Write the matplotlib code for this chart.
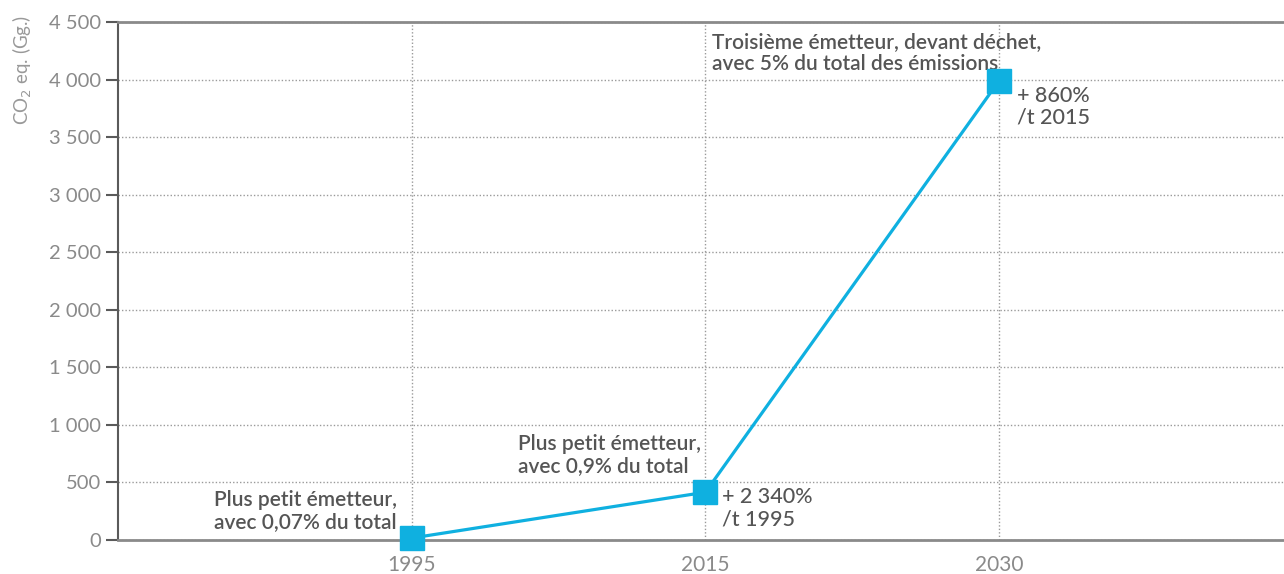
import matplotlib.pyplot as plt

# data
years = ["1995", "2015", "2030"]
emissions = [17, 415, 3990]
y_ticks = [0, 500, 1000, 1500, 2000, 2500, 3000, 3500, 4000, 4500]
y_tick_labels = ["0", "500", "1 000", "1 500", "2 000", "2 500",
                 "3 000", "3 500", "4 000", "4 500"]
notes_left = ["Plus petit émetteur,\navec 0,07% du total",
              "Plus petit émetteur,\navec 0,9% du total",
              "Troisième émetteur, devant déchet,\navec 5% du total des émissions"]
notes_right = [None, "+ 2 340%\n/t 1995", "+ 860%\n/t 2015"]

plt.rcParams['font.family'] = ['Lato', 'DejaVu Sans']

BLUE = '#0fb0e0'
TXT = '#555555'
TICK = '#8a8a8a'

fig = plt.figure(figsize=(12.84, 5.74), dpi=100)
ax = fig.add_axes([118 / 1284, 1 - 540 / 574, 1 - 118 / 1284, (540 - 22) / 574])

x = list(range(len(years)))
ax.plot(x, emissions, color=BLUE, lw=2.3, marker='s', ms=17,
        markerfacecolor=BLUE, markeredgecolor=BLUE, zorder=5, clip_on=False)

ax.set_xlim(-1, 2.97)
ax.set_ylim(0, 4500)
ax.set_xticks(x)
ax.set_xticklabels(years)
ax.set_yticks(y_ticks)
ax.set_yticklabels(y_tick_labels)

ax.grid(True, color='#9a9a9a', ls=(0, (1, 1.5)), lw=1)
ax.set_axisbelow(True)

ax.spines['right'].set_visible(False)
ax.spines['left'].set_color('#5a5a5a')
ax.spines['left'].set_linewidth(1.5)
ax.spines['top'].set_color(TICK)
ax.spines['top'].set_linewidth(2)
ax.spines['bottom'].set_color(TICK)
ax.spines['bottom'].set_linewidth(2)

ax.tick_params(axis='y', direction='out', length=9, width=1.5, color='#5a5a5a',
               pad=3, labelsize=14.5, labelcolor=TICK)
ax.tick_params(axis='x', length=0, pad=11, labelsize=15, labelcolor=TICK)

fig.text(22 / 1284, 1 - 70 / 574, "CO$_2$ eq. (Gg.)", rotation=90,
         ha='center', va='center', fontsize=13.5, color='#999999')

# annotations (offsets in pixels)
left_offsets = [(-15, 27, 'right'), (-187, 37, 'left'), (-287, 28, 'left')]
right_offsets = [None, (17, -16), (18, -26)]
for i in x:
    dx, dy, ha = left_offsets[i]
    ax.annotate(notes_left[i], xy=(i, emissions[i]), xytext=(dx, dy),
                textcoords='offset pixels', ha=ha, va='center',
                multialignment='left', fontsize=15, color=TXT,
                fontweight='semibold', linespacing=1.1, annotation_clip=False)
    if notes_right[i]:
        dx, dy = right_offsets[i]
        ax.annotate(notes_right[i], xy=(i, emissions[i]), xytext=(dx, dy),
                    textcoords='offset pixels', ha='left', va='center',
                    multialignment='left', fontsize=15.5, color=TXT,
                    fontweight='medium', linespacing=1.1, annotation_clip=False)

plt.savefig('out.png', dpi=100)
